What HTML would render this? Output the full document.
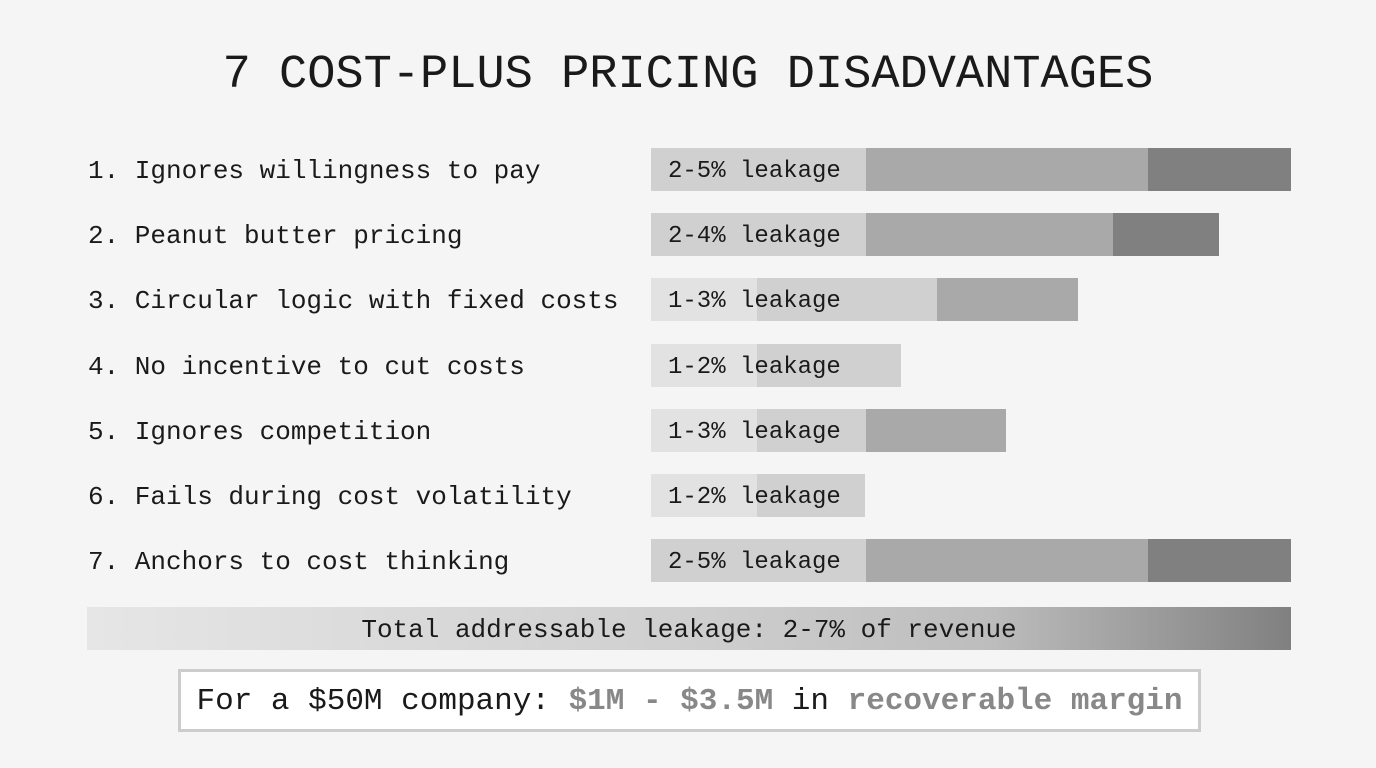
<!DOCTYPE html>
<html><head><style>
body{margin:0;width:1376px;height:768px;background:#f5f5f5;position:relative;overflow:hidden;font-family:"Liberation Mono",monospace;color:#1a1a1a}
div{position:absolute}
.t{left:0;width:1376px;text-align:center;top:48px;font-size:47px;line-height:56px}
.l{left:88px;font-size:26px;line-height:47px}
.b{height:43px}
.bt{left:668px;font-size:24px;line-height:47px}
</style></head><body>
<div class="t">7 COST-PLUS PRICING DISADVANTAGES</div>

<div class="l" style="top:148px">1. Ignores willingness to pay</div>
<div class="b" style="top:148px;left:651px;width:215px;background:#d0d0d0"></div>
<div class="b" style="top:148px;left:866px;width:282px;background:#a9a9a9"></div>
<div class="b" style="top:148px;left:1148px;width:143px;background:#808080"></div>
<div class="bt" style="top:148px">2-5% leakage</div>

<div class="l" style="top:213px">2. Peanut butter pricing</div>
<div class="b" style="top:213px;left:651px;width:215px;background:#d0d0d0"></div>
<div class="b" style="top:213px;left:866px;width:247px;background:#a9a9a9"></div>
<div class="b" style="top:213px;left:1113px;width:106px;background:#808080"></div>
<div class="bt" style="top:213px">2-4% leakage</div>

<div class="l" style="top:278px">3. Circular logic with fixed costs</div>
<div class="b" style="top:278px;left:651px;width:106px;background:#e2e2e2"></div>
<div class="b" style="top:278px;left:757px;width:180px;background:#d0d0d0"></div>
<div class="b" style="top:278px;left:937px;width:141px;background:#a9a9a9"></div>
<div class="bt" style="top:278px">1-3% leakage</div>

<div class="l" style="top:344px">4. No incentive to cut costs</div>
<div class="b" style="top:344px;left:651px;width:106px;background:#e2e2e2"></div>
<div class="b" style="top:344px;left:757px;width:144px;background:#d0d0d0"></div>
<div class="bt" style="top:344px">1-2% leakage</div>

<div class="l" style="top:409px">5. Ignores competition</div>
<div class="b" style="top:409px;left:651px;width:106px;background:#e2e2e2"></div>
<div class="b" style="top:409px;left:757px;width:109px;background:#d0d0d0"></div>
<div class="b" style="top:409px;left:866px;width:140px;background:#a9a9a9"></div>
<div class="bt" style="top:409px">1-3% leakage</div>

<div class="l" style="top:474px">6. Fails during cost volatility</div>
<div class="b" style="top:474px;left:651px;width:106px;background:#e2e2e2"></div>
<div class="b" style="top:474px;left:757px;width:108px;background:#d0d0d0"></div>
<div class="bt" style="top:474px">1-2% leakage</div>

<div class="l" style="top:539px">7. Anchors to cost thinking</div>
<div class="b" style="top:539px;left:651px;width:215px;background:#d0d0d0"></div>
<div class="b" style="top:539px;left:866px;width:282px;background:#a9a9a9"></div>
<div class="b" style="top:539px;left:1148px;width:143px;background:#808080"></div>
<div class="bt" style="top:539px">2-5% leakage</div>

<div style="top:607px;left:87px;width:1204px;height:43px;background:linear-gradient(90deg,#e6e6e6 0%,#cfcfcf 50%,#bdbdbd 75%,#808080 100%);text-align:center;font-size:26px;line-height:47px;overflow:hidden">Total addressable leakage: 2-7% of revenue</div>

<div style="top:669px;left:178px;width:1017px;height:57px;border:3px solid #cccccc;background:#fff;text-align:center;font-size:31px;line-height:60px;white-space:nowrap">For a $50M company: <b style="color:#888">$1M - $3.5M</b> in <b style="color:#888">recoverable margin</b></div>
</body></html>
